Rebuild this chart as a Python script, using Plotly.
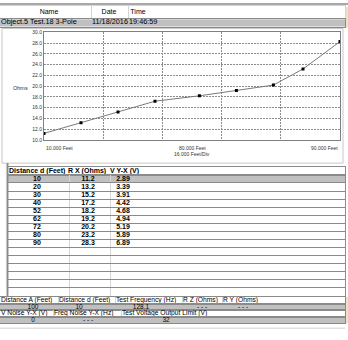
import plotly.graph_objects as go

W, H = 348, 340

# ---- data ----
distance_ft = [10, 20, 30, 40, 52, 62, 72, 80, 90]
r_x_ohms = [11.2, 13.2, 15.2, 17.2, 18.2, 19.2, 20.2, 23.2, 28.3]
v_yx = [2.89, 3.39, 3.91, 4.42, 4.68, 4.94, 5.19, 5.89, 6.89]

header_cols = ["Name", "Date", "Time"]
object_row = ["Object.5 Test.18 3-Pole", "11/18/2016", "19:46:59"]
table_cols = ["Distance d (Feet)", "R X (Ohms)", "V Y-X (V)"]
setup_cols = ["Distance A (Feet)", "Distance d (Feet)", "Test Frequency (Hz)", "R Z (Ohms)", "R Y (Ohms)"]
setup_vals = ["100", "10", "128.1", "- - -", "- - -"]
noise_cols = ["V Noise Y-X (V)", "Freq Noise Y-X (Hz)", "Test Voltage Output Limit (V)"]
noise_vals = ["0", "- - -", "32"]
x_left_label = "10.000 Feet"
x_mid_label = "80.000 Feet"
x_div_label = "16.000 Feet/Div"
x_right_label = "90.000 Feet"
y_title = "Ohms"

FONT = "Arial, Liberation Sans, sans-serif"
GRAY_FILL = "#c0c0c0"
LINE_DARK = "#8a8a8a"
LINE_LIGHT = "#d4d4d4"


def px_x(a, b):
    return [a / W, b / W]


def px_y(top, bottom):
    return [1 - bottom / H, 1 - top / H]


fig = go.Figure()

# ---- chart ----
fig.add_trace(go.Scatter(
    x=distance_ft, y=r_x_ohms, mode="lines+markers",
    line=dict(color="#7a7a7a", width=1),
    marker=dict(symbol="square", size=3, color="#000000"),
    hoverinfo="skip", showlegend=False,
))

axes = {}
axes["xaxis"] = dict(
    domain=px_x(44, 340), range=[10, 90], tick0=10, dtick=16,
    showgrid=True, griddash="2px,1px", gridcolor="#8c8c8c", gridwidth=1,
    showline=True, mirror=True, linecolor="#808080", linewidth=1,
    showticklabels=False, zeroline=False, fixedrange=True,
)
axes["yaxis"] = dict(
    domain=px_y(30, 139.3), range=[10, 30], dtick=2, tickformat=".1f",
    showgrid=True, griddash="2px,1px", gridcolor="#8c8c8c", gridwidth=1,
    showline=True, mirror=True, linecolor="#808080", linewidth=1,
    tickfont=dict(size=5, color="#333333", family=FONT),
    ticks="", ticklabelstandoff=0, zeroline=False, fixedrange=True,
)

sections = []


def add_section(top, row_h, x0, x1, columns, n_rows=None, dividers=(),
                fill=None, fill_rows=(), bold=False, size=7,
                row_line=LINE_DARK, border=LINE_DARK):
    k = len(sections) + 2
    sections.append(k)
    xa, ya = f"x{k}", f"y{k}"
    n = n_rows or max(len(c[1]) for c in columns)
    bottom = top + n * row_h
    axes[f"xaxis{k}"] = dict(
        domain=px_x(x0, x1), range=[x0, x1], anchor=ya,
        tickvals=list(dividers), showgrid=bool(dividers), gridcolor=LINE_LIGHT,
        showticklabels=False, ticks="", zeroline=False,
        showline=border is not None, mirror=True, linecolor=border or LINE_DARK,
        fixedrange=True,
    )
    axes[f"yaxis{k}"] = dict(
        domain=px_y(top, bottom), range=[n - 0.5, -0.5], anchor=xa,
        tickvals=[i + 0.5 for i in range(n - 1)], showgrid=n > 1, gridcolor=row_line,
        showticklabels=False, ticks="", zeroline=False,
        showline=border is not None, mirror=True, linecolor=border or LINE_DARK,
        fixedrange=True,
    )
    if fill:
        fig.add_shape(type="rect", xref=f"{xa} domain", yref=f"{ya} domain",
                      x0=0, x1=1, y0=0, y1=1, fillcolor=fill, line_width=0, layer="below")
    for r in fill_rows:
        fig.add_shape(type="rect", xref=f"{xa} domain", yref=ya,
                      x0=0, x1=1, y0=r - 0.5, y1=r + 0.5, fillcolor=GRAY_FILL,
                      line_width=0, layer="below")
    for xpos, vals, pos in columns:
        txt = [f"<b>{v}</b>" if bold else v for v in vals]
        fig.add_trace(go.Scatter(
            x=[xpos] * len(vals), y=list(range(len(vals))), text=txt,
            mode="text", textposition=pos,
            textfont=dict(size=size, color="#000000", family=FONT),
            xaxis=xa, yaxis=ya, hoverinfo="skip", showlegend=False, cliponaxis=False,
        ))


# top header (Name / Date / Time)
add_section(3, 13, 0, 345,
            [(49, [header_cols[0]], "middle center"),
             (109, [header_cols[1]], "middle center"),
             (138, [header_cols[2]], "middle center")],
            dividers=(91, 128), border=LINE_LIGHT)
add_section(16, 8, 0, 345,
            [(1, [object_row[0]], "middle right"),
             (92, [object_row[1]], "middle right"),
             (129, [object_row[2]], "middle right")],
            fill=GRAY_FILL, size=7.3)

# data table
add_section(167, 8, 8, 345,
            [(9, [table_cols[0]], "middle right"),
             (68, [table_cols[1]], "middle right"),
             (110, [table_cols[2]], "middle right")],
            bold=True, size=7)
add_section(175, 8.2, 8, 345,
            [(37, [str(v) for v in distance_ft], "middle center"),
             (88, [f"{v:.1f}" for v in r_x_ohms], "middle center"),
             (123, [f"{v:.2f}" for v in v_yx], "middle center")],
            n_rows=15, dividers=(69, 110), fill_rows=(0,), bold=True)

# setup rows
add_section(299.5, 7, 0, 345,
            [(1, [setup_cols[0]], "middle right"),
             (59, [setup_cols[1]], "middle right"),
             (116, [setup_cols[2]], "middle right"),
             (183, [setup_cols[3]], "middle right"),
             (223, [setup_cols[4]], "middle right")],
            dividers=(58, 115, 182, 222), size=6.7)
add_section(306.5, 6.5, 0, 345,
            [(33, [setup_vals[0]], "middle center"),
             (79, [setup_vals[1]], "middle center"),
             (141, [setup_vals[2]], "middle center"),
             (202, [setup_vals[3]], "middle center"),
             (243, [setup_vals[4]], "middle center")],
            fill=GRAY_FILL, size=6.5)
add_section(313, 6.5, 0, 345,
            [(1, [noise_cols[0]], "middle right"),
             (54, [noise_cols[1]], "middle right"),
             (122, [noise_cols[2]], "middle right")],
            dividers=(53, 121), size=6.7)
add_section(319.5, 6.5, 0, 345,
            [(33, [noise_vals[0]], "middle center"),
             (88, [noise_vals[1]], "middle center"),
             (166, [noise_vals[2]], "middle center")],
            fill=GRAY_FILL, size=6.5)

# ---- decorations: frames and bars ----
fig.add_shape(type="rect", xref="paper", yref="paper", x0=0, x1=1, y0=1 - 2 / H, y1=1,
              fillcolor="#a8a8a8", line_width=0, layer="below")
fig.add_shape(type="rect", xref="paper", yref="paper",
              x0=2 / W, x1=343 / W, y0=1 - 163 / H, y1=1 - 26 / H,
              fillcolor="white", line=dict(color="#c8c8c8", width=1), layer="below")
fig.add_shape(type="rect", xref="paper", yref="paper",
              x0=6.5 / W, x1=8.5 / W, y0=1 - 298 / H, y1=1 - 163 / H,
              fillcolor="#8c8c8c", line_width=0, layer="below")
for top, bot in [(4, 25), (299, 326)]:
    fig.add_shape(type="rect", xref="paper", yref="paper",
                  x0=345.5 / W, x1=1, y0=1 - bot / H, y1=1 - top / H,
                  fillcolor="#ece4c0", line_width=0, layer="below")
fig.add_shape(type="line", xref="paper", yref="paper",
              x0=0, x1=345 / W, y0=1 - 331 / H, y1=1 - 331 / H,
              line=dict(color=LINE_LIGHT, width=1), layer="below")

# ---- chart labels ----
fig.add_annotation(text=y_title, xref="paper", yref="paper", x=11 / W, y=1 - 87 / H,
                   xanchor="left", yanchor="middle", showarrow=False,
                   font=dict(size=5.5, color="#333333", family=FONT))
lab_font = dict(size=5, color="#333333", family=FONT)
fig.add_annotation(text=x_left_label, x=10, xref="x", y=1 - 148 / H, yref="paper",
                   xanchor="left", yanchor="middle", showarrow=False, font=lab_font)
fig.add_annotation(text=x_right_label, x=90, xref="x", y=1 - 148 / H, yref="paper",
                   xanchor="right", yanchor="middle", showarrow=False, font=lab_font)
fig.add_annotation(text=x_mid_label, x=50, xref="x", y=1 - 148 / H, yref="paper",
                   xanchor="center", yanchor="middle", showarrow=False, font=lab_font)
fig.add_annotation(text=x_div_label, x=50, xref="x", y=1 - 153.5 / H, yref="paper",
                   xanchor="center", yanchor="middle", showarrow=False, font=lab_font)

fig.update_layout(
    width=W, height=H,
    margin=dict(l=0, r=0, t=0, b=0),
    paper_bgcolor="white", plot_bgcolor="rgba(0,0,0,0)",
    font=dict(family=FONT, color="#000000"),
    showlegend=False,
    **axes,
)

fig.write_html("out.html", config={"displayModeBar": False},
               post_script="document.body.style.margin='0';")
